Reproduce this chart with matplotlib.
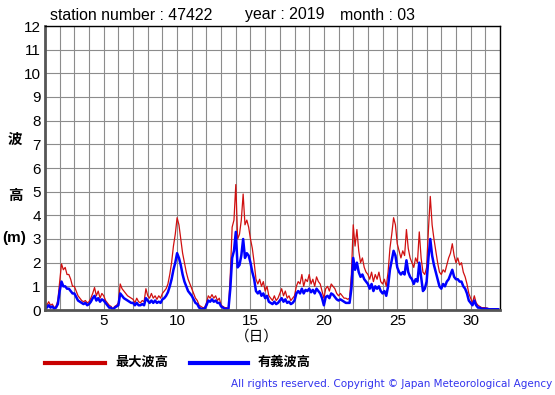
import numpy as np
import matplotlib
matplotlib.use("Agg")
import matplotlib.pyplot as plt

plt.rcParams['font.family'] = ['Liberation Sans', 'Noto Sans CJK JP', 'DejaVu Sans']

# 3-hourly values, March 2019, station 47422
max_wave = [
    0.3, 0.2, 0.35, 0.2, 0.25, 0.1, 0.15, 0.4,        # 1
    1.2, 1.95, 1.7, 1.8, 1.5, 1.5, 1.3, 1.0,          # 2
    1.0, 0.8, 0.6, 0.5, 0.4, 0.35, 0.4, 0.3,          # 3
    0.35, 0.5, 0.7, 0.95, 0.6, 0.8, 0.5, 0.7,         # 4
    0.6, 0.4, 0.3, 0.2, 0.15, 0.05, 0.15, 0.2,        # 5
    0.3, 1.1, 0.9, 0.8, 0.7, 0.6, 0.55, 0.5,          # 6
    0.45, 0.3, 0.5, 0.35, 0.3, 0.4, 0.35, 0.9,        # 7
    0.6, 0.5, 0.7, 0.5, 0.6, 0.45, 0.6, 0.5,          # 8
    0.7, 0.8, 0.9, 1.1, 1.5, 2.0, 2.7, 3.2,           # 9
    3.9, 3.6, 3.0, 2.4, 2.0, 1.6, 1.3, 1.1,           # 10
    0.9, 0.7, 0.5, 0.4, 0.2, 0.15, 0.1, 0.1,          # 11
    0.3, 0.6, 0.5, 0.65, 0.5, 0.6, 0.4, 0.5,          # 12
    0.2, 0.15, 0.1, 0.1, 0.05, 1.5, 3.5, 3.8,         # 13
    5.3, 3.0, 3.2, 3.8, 4.9, 3.6, 3.8, 3.5,           # 14
    3.0, 2.6, 2.0, 1.3, 1.1, 1.3, 1.0, 1.2,           # 15
    0.8, 1.0, 0.6, 0.5, 0.4, 0.6, 0.4, 0.5,           # 16
    0.7, 0.9, 0.6, 0.8, 0.5, 0.6, 0.4, 0.5,           # 17
    0.6, 1.0, 1.2, 1.1, 1.5, 1.0, 1.3, 1.2,           # 18
    1.5, 1.1, 1.3, 1.0, 1.4, 1.2, 1.1, 0.8,           # 19
    0.5, 0.9, 1.0, 0.8, 1.1, 1.0, 0.9, 0.7,           # 20
    0.6, 0.7, 0.6, 0.5, 0.5, 0.45, 0.5, 1.5,          # 21
    3.6, 2.7, 3.4, 2.5, 2.0, 2.2, 1.8, 1.6,           # 22
    1.5, 1.3, 1.6, 1.2, 1.5, 1.3, 1.6, 1.2,           # 23
    1.1, 1.3, 1.0, 1.6, 2.6, 3.2, 3.9, 3.6,           # 24
    2.8, 2.5, 2.2, 2.5, 2.3, 3.4, 2.6, 2.2,           # 25
    2.0, 1.8, 2.2, 2.0, 3.3, 2.2, 1.6, 1.5,           # 26
    1.8, 3.4, 4.8, 3.6, 3.0, 2.5, 2.0, 1.6,           # 27
    1.5, 1.7, 1.6, 1.9, 2.2, 2.4, 2.8, 2.3,           # 28
    2.0, 2.2, 1.9, 2.0, 1.6, 1.4, 1.1, 0.7,           # 29
    0.5, 0.3, 0.6, 0.3, 0.2, 0.15, 0.1, 0.1,          # 30
    0.1, 0.08, 0.05, 0.05, 0.05, 0.05, 0.05, 0.05,    # 31
]
sig_wave = [
    0.2, 0.1, 0.2, 0.1, 0.15, 0.05, 0.1, 0.25,
    0.8, 1.2, 1.0, 1.0, 0.9, 0.9, 0.8, 0.7,
    0.7, 0.55, 0.4, 0.35, 0.3, 0.25, 0.3, 0.2,
    0.25, 0.35, 0.5, 0.6, 0.4, 0.5, 0.35, 0.45,
    0.4, 0.3, 0.2, 0.1, 0.1, 0.0, 0.1, 0.15,
    0.2, 0.7, 0.6, 0.5, 0.45, 0.4, 0.35, 0.3,
    0.3, 0.2, 0.3, 0.2, 0.2, 0.25, 0.2, 0.5,
    0.4, 0.3, 0.4, 0.3, 0.4, 0.3, 0.35, 0.3,
    0.45, 0.5, 0.6, 0.75, 1.0, 1.3, 1.7, 2.0,
    2.4, 2.2, 1.9, 1.5, 1.2, 1.0, 0.8, 0.7,
    0.6, 0.45, 0.3, 0.25, 0.1, 0.05, 0.05, 0.05,
    0.2, 0.4, 0.35, 0.45, 0.35, 0.4, 0.3, 0.3,
    0.15, 0.1, 0.05, 0.05, 0.05, 0.9, 2.2, 2.5,
    3.3, 1.8, 1.9, 2.3, 3.0, 2.2, 2.4, 2.3,
    2.0, 1.6, 1.3, 0.8, 0.7, 0.8, 0.6, 0.7,
    0.5, 0.6, 0.35, 0.3, 0.25, 0.35, 0.25, 0.3,
    0.4, 0.5, 0.35, 0.45, 0.3, 0.35, 0.25, 0.3,
    0.4, 0.7, 0.8, 0.7, 0.9, 0.7, 0.85, 0.8,
    0.9, 0.75, 0.85, 0.7, 0.9, 0.8, 0.7, 0.5,
    0.2, 0.55, 0.6, 0.5, 0.7, 0.65, 0.55, 0.45,
    0.4, 0.45, 0.4, 0.35, 0.3, 0.3, 0.3, 0.9,
    2.2, 1.7, 2.0, 1.6, 1.4, 1.5, 1.3, 1.2,
    1.1, 0.9, 1.1, 0.8, 1.0, 0.9, 1.0, 0.8,
    0.7, 0.8, 0.6, 1.0, 1.7, 2.1, 2.5, 2.3,
    1.8, 1.6, 1.5, 1.6, 1.5, 2.1, 1.6, 1.4,
    1.3, 1.1, 1.3, 1.2, 2.0, 1.4, 0.8, 0.9,
    1.2, 2.2, 3.0, 2.3, 1.9, 1.6, 1.3, 1.0,
    0.9, 1.1, 1.0, 1.2, 1.3, 1.5, 1.7, 1.4,
    1.3, 1.3, 1.2, 1.2, 1.0, 0.9, 0.7, 0.4,
    0.3, 0.2, 0.4, 0.2, 0.1, 0.1, 0.05, 0.05,
    0.05, 0.05, 0.03, 0.03, 0.03, 0.03, 0.03, 0.03,
]
days = 1 + np.arange(len(max_wave)) / 8.0

fig = plt.figure(figsize=(5.55, 3.95), dpi=100)
ax = fig.add_axes([45/555, 1 - 310/395, 455/555, 284/395])

ax.plot(days, max_wave, color="#d01010", lw=0.9)
ax.plot(days, sig_wave, color="#0000ff", lw=1.8)

ax.set_xlim(1, 32)
ax.set_ylim(0, 12)
ax.set_xticks(np.arange(1, 33), minor=True)
ax.set_xticks([5, 10, 15, 20, 25, 30])
ax.set_yticks(np.arange(0, 13))
ax.grid(True, which="both", color="#8c8c8c", lw=0.8)
ax.tick_params(which="both", length=0, labelsize=11, pad=3)
for s in ["left", "bottom"]:
    ax.spines[s].set_color("#555555")
    ax.spines[s].set_linewidth(2)
for s in ["top", "right"]:
    ax.spines[s].set_linewidth(1)

fig.text(50/555, 1 - 15/395, "station number : 47422", fontsize=11.4, va="center")
fig.text(245/555, 1 - 15/395, "year : 2019", fontsize=11.4, va="center")
fig.text(340/555, 1 - 15/395, "month : 03", fontsize=11.4, va="center")

fig.text(15/555, 1 - 140/395, "波", fontsize=10.5, fontweight="bold", ha="center", va="center")
fig.text(15/555, 1 - 196/395, "高", fontsize=10.5, fontweight="bold", ha="center", va="center")
fig.text(14/555, 1 - 238/395, "(m)", fontsize=11, fontweight="bold", ha="center", va="center")
fig.text(257/555, 1 - 337/395, "（日）", fontsize=10.5, ha="center", va="center")

fig.add_artist(plt.Line2D([45/555, 105/555], [1 - 363/395] * 2, color="#c80000", lw=3))
fig.text(115/555, 1 - 363/395, "最大波高", fontsize=9.5, fontweight="bold", va="center")
fig.add_artist(plt.Line2D([190/555, 248/555], [1 - 363/395] * 2, color="#0000ff", lw=3))
fig.text(258/555, 1 - 363/395, "有義波高", fontsize=9.5, fontweight="bold", va="center")

fig.text(552/555, 1 - 384/395, "All rights reserved. Copyright © Japan Meteorological Agency",
         fontsize=7.5, family="DejaVu Sans", color="#3333ee", ha="right", va="center")

fig.savefig("out.png", dpi=100)
